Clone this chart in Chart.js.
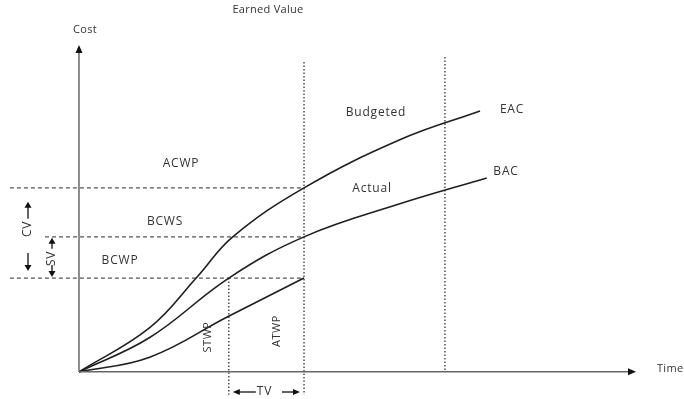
<!DOCTYPE html>
<html>
<head>
<meta charset="utf-8">
<script src="https://cdn.jsdelivr.net/npm/chart.js@4/dist/chart.umd.min.js"></script>
<style>
html,body{margin:0;padding:0;background:#fff;}
#wrap{width:684px;height:399px;position:relative;}
</style>
</head>
<body>
<div id="wrap"><canvas id="c" width="684" height="399"></canvas></div>
<script>
// ---- data (time units / cost units) ----
const acwpTime = [0, 12.7, 21.2, 27.6, 40.4, 57.6, 72];
const acwpCost = [0, 13.5, 29, 41.3, 56.3, 71, 79.8];
const bcwsTime = [0, 12.7, 26.9, 40.4, 57.6, 73.2];
const bcwsCost = [0, 10.5, 28.7, 41.3, 51.4, 59.3];
const bcwpTime = [0, 12.7, 26.6, 40.4];
const bcwpCost = [0, 4.5, 16.8, 28.7];
const costLevels = [56.3, 41.3, 28.7];          // ACWP, BCWS, BCWP at status date
const keyTimes = [26.9, 40.4, 65.7];             // STWP, ATWP (status), completion

const toPts = (t, c) => t.map((v, i) => ({x: v, y: c[i]}));

const curveStyle = {
  showLine: true, borderColor: '#1e1e1e', borderWidth: 1.6, pointRadius: 0,
  tension: 0.4, fill: false, clip: false
};
const dashStyle = {
  showLine: true, borderColor: '#555', borderWidth: 1.2, pointRadius: 0,
  borderDash: [4, 3], fill: false, clip: false
};
const dotStyle = {
  showLine: true, borderColor: '#333', borderWidth: 1.3, pointRadius: 0,
  borderDash: [1.5, 2], fill: false, clip: false
};

const datasets = [
  Object.assign({label: 'ACWP', data: toPts(acwpTime, acwpCost)}, curveStyle),
  Object.assign({label: 'BCWS', data: toPts(bcwsTime, bcwsCost)}, curveStyle),
  Object.assign({label: 'BCWP', data: toPts(bcwpTime, bcwpCost)}, curveStyle),
  Object.assign({label: 'g1', data: [{x: -12.4, y: costLevels[0]}, {x: keyTimes[1], y: costLevels[0]}]}, dashStyle),
  Object.assign({label: 'g2', data: [{x: -6.1, y: costLevels[1]}, {x: keyTimes[1], y: costLevels[1]}]}, dashStyle),
  Object.assign({label: 'g3', data: [{x: -12.4, y: costLevels[2]}, {x: keyTimes[1], y: costLevels[2]}]}, dashStyle),
  Object.assign({label: 'v1', data: [{x: keyTimes[0], y: costLevels[2]}, {x: keyTimes[0], y: -7}]}, dotStyle),
  Object.assign({label: 'v2', data: [{x: keyTimes[1], y: 94.8}, {x: keyTimes[1], y: -7}]}, dotStyle),
  Object.assign({label: 'v3', data: [{x: keyTimes[2], y: 96.3}, {x: keyTimes[2], y: 0}]}, dotStyle)
];

const FONT = '12px "Open Sans"';
const TXT = '#333';

function arrowHead(ctx, x, y, dir, len, half) {
  ctx.beginPath();
  if (dir === 'up') { ctx.moveTo(x, y); ctx.lineTo(x - half, y + len); ctx.lineTo(x + half, y + len); }
  else if (dir === 'down') { ctx.moveTo(x, y); ctx.lineTo(x - half, y - len); ctx.lineTo(x + half, y - len); }
  else if (dir === 'right') { ctx.moveTo(x, y); ctx.lineTo(x - len, y - half); ctx.lineTo(x - len, y + half); }
  else { ctx.moveTo(x, y); ctx.lineTo(x + len, y - half); ctx.lineTo(x + len, y + half); }
  ctx.closePath(); ctx.fill();
}

const decor = {
  id: 'decor',
  afterDatasetsDraw(chart) {
    const ctx = chart.ctx;
    const xs = chart.scales.x, ys = chart.scales.y;
    const X = v => xs.getPixelForValue(v), Y = v => ys.getPixelForValue(v);
    ctx.save();
    // axes
    ctx.strokeStyle = '#666'; ctx.fillStyle = '#111'; ctx.lineWidth = 1.5;
    const ox = X(0), oy = Y(0);
    ctx.beginPath(); ctx.moveTo(ox, oy); ctx.lineTo(ox, Y(100) + 6); ctx.stroke();
    arrowHead(ctx, ox, Y(100), 'up', 8, 3.5);
    ctx.beginPath(); ctx.moveTo(ox, oy); ctx.lineTo(X(100) - 6, oy); ctx.stroke();
    arrowHead(ctx, X(100), oy, 'right', 8, 3.5);

    // text labels
    ctx.fillStyle = TXT;
    ctx.textAlign = 'center'; ctx.textBaseline = 'middle';
    const lbl = (t, px, py) => ctx.fillText(t, px, py);
    ctx.font = '11px "Open Sans"'; ctx.letterSpacing = '0.3px';
    lbl('Earned Value', 268, 10);
    lbl('Cost', 85, 30);
    ctx.textAlign = 'left'; lbl('Time', 657, 369); ctx.textAlign = 'center';
    ctx.font = FONT; ctx.letterSpacing = '0.8px';
    lbl('ACWP', 181, 164);
    lbl('BCWS', 165, 222);
    lbl('BCWP', 120, 261);
    lbl('Budgeted', 376, 113);
    lbl('Actual', 372, 189);
    lbl('EAC', 512, 110);
    lbl('BAC', 506, 172);
    const rot = (t, px, py) => { ctx.save(); ctx.translate(px, py); ctx.rotate(-Math.PI / 2); ctx.fillText(t, 0, 0); ctx.restore(); };
    ctx.font = '11px "Open Sans"'; ctx.letterSpacing = '0.5px';
    rot('STWP', 208, 337);
    rot('ATWP', 277, 331);

    // CV marker
    ctx.strokeStyle = '#111'; ctx.fillStyle = '#111'; ctx.lineWidth = 1.3;
    const cvx = 28, top = Y(costLevels[0]), bot = Y(costLevels[2]);
    ctx.beginPath(); ctx.moveTo(cvx, top + 31); ctx.lineTo(cvx, top + 18); ctx.stroke();
    arrowHead(ctx, cvx, top + 14, 'up', 6, 3.5);
    ctx.beginPath(); ctx.moveTo(cvx, bot - 25); ctx.lineTo(cvx, bot - 11); ctx.stroke();
    arrowHead(ctx, cvx, bot - 7, 'down', 6, 3.5);
    ctx.fillStyle = TXT; ctx.font = FONT; ctx.letterSpacing = '0.8px';
    rot('CV', cvx, (top + bot) / 2 - 4);

    // SV marker
    ctx.fillStyle = '#111';
    const svx = 52, st = Y(costLevels[1]);
    arrowHead(ctx, svx, st + 1, 'up', 6, 3.5);
    ctx.beginPath(); ctx.moveTo(svx, st + 6); ctx.lineTo(svx, st + 12); ctx.stroke();
    ctx.beginPath(); ctx.moveTo(svx, bot - 13); ctx.lineTo(svx, bot - 6); ctx.stroke();
    arrowHead(ctx, svx, bot - 1, 'down', 6, 3.5);
    ctx.fillStyle = TXT;
    rot('SV', svx, (st + bot) / 2 + 1);

    // TV marker
    ctx.fillStyle = '#111';
    const ty = 392, tl = X(keyTimes[0]), tr = X(keyTimes[1]);
    arrowHead(ctx, tl + 4, ty, 'left', 7, 3);
    ctx.beginPath(); ctx.moveTo(tl + 10, ty); ctx.lineTo(tl + 27, ty); ctx.stroke();
    ctx.beginPath(); ctx.moveTo(tr - 22, ty); ctx.lineTo(tr - 10, ty); ctx.stroke();
    arrowHead(ctx, tr - 4, ty, 'right', 7, 3);
    ctx.fillStyle = TXT;
    lbl('TV', (tl + tr) / 2 - 2, ty);
    ctx.restore();
  }
};

new Chart(document.getElementById('c'), {
  type: 'scatter',
  data: {datasets},
  options: {
    responsive: false, animation: false, devicePixelRatio: 1,
    layout: {padding: {left: 1, right: 48, top: 45, bottom: 1}},
    plugins: {legend: {display: false}, tooltip: {enabled: false}, title: {display: false}},
    scales: {
      x: {type: 'linear', min: -14, max: 100, display: false},
      y: {type: 'linear', min: -8, max: 100, display: false}
    }
  },
  plugins: [decor]
});
</script>
</body>
</html>
